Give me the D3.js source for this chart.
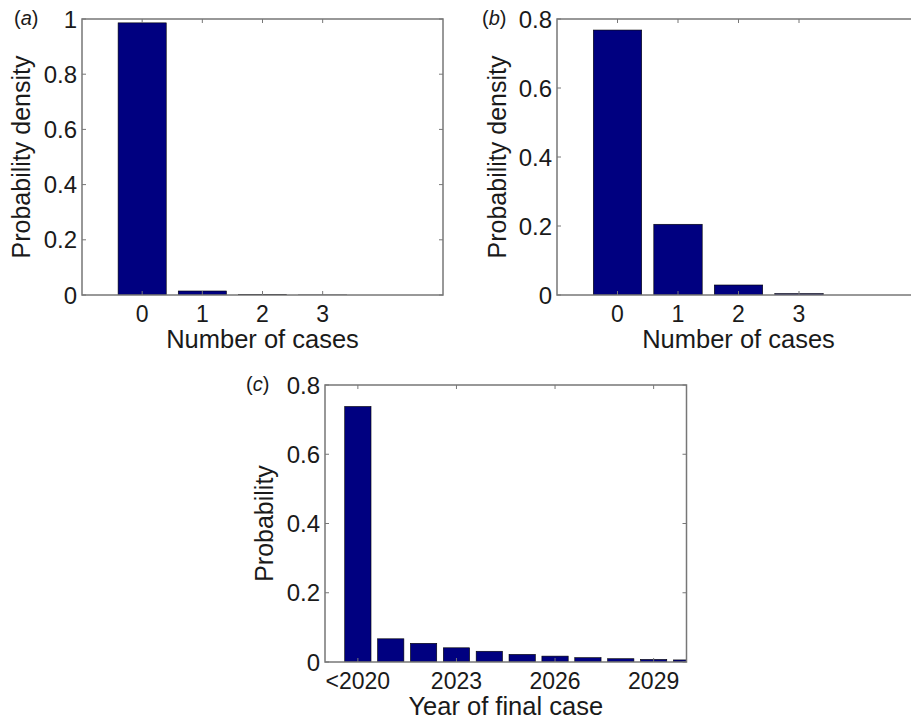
<!DOCTYPE html>
<html>
<head>
<meta charset="utf-8">
<script src="https://cdn.jsdelivr.net/npm/d3@7"></script>
<style>
  body { margin: 0; background: #fff; }
  text { font-family: "Liberation Sans", Arial, sans-serif; fill: #1a1a1a; }
</style>
</head>
<body>
<svg id="fig" width="911" height="720"></svg>
<script>
// number of cases, panels (a) and (b)
const cases = [0, 1, 2, 3]
const densityA = [0.986, 0.0145, 0.0015, 0.0002]
const densityB = [0.768, 0.205, 0.029, 0.004]

// year of final case, panel (c)
const years = [2020, 2021, 2022, 2023, 2024, 2025, 2026, 2027, 2028, 2029, 2030]
const probC = [0.738, 0.067, 0.054, 0.041, 0.031, 0.022, 0.017, 0.0125, 0.0095, 0.0075, 0.006]
const yearTicks = [2020, 2023, 2026, 2029]
const yearTickLabels = ['<2020', '2023', '2026', '2029']

const ticksA = [0, 0.2, 0.4, 0.6, 0.8, 1]
const ticks08 = [0, 0.2, 0.4, 0.6, 0.8]

const svg = d3.select('#fig')
const barColor = '#000080'
const axisColor = '#777'

function panel(opt) {
    let g = svg.append('g')
    let x = d3.scaleLinear().domain(opt.xDomain).range([opt.left, opt.right])
    let y = d3.scaleLinear().domain(opt.yDomain).range([opt.bottom, opt.top])

    let clipId = 'clip-' + opt.id
    g.append('clipPath').attr('id', clipId)
        .append('rect')
        .attr('x', opt.left).attr('y', opt.top)
        .attr('width', opt.right - opt.left)
        .attr('height', opt.bottom - opt.top)

    // bars, width 0.8 like matlab
    g.append('g').attr('clip-path', `url(#${clipId})`)
        .selectAll('rect')
        .data(opt.xs.map((v, i) => ({ v: v, p: opt.ys[i] })))
        .join('rect')
        .attr('x', d => x(d.v - 0.4))
        .attr('width', d => x(d.v + 0.4) - x(d.v - 0.4))
        .attr('y', d => y(d.p))
        .attr('height', d => y(0) - y(d.p))
        .attr('fill', barColor)
        .attr('stroke', '#000')
        .attr('stroke-width', 0.6)

    // ticks on all four sides, pointing inward
    let tl = 4
    let axes = g.append('g')
        .attr('stroke', axisColor)
        .attr('stroke-width', 1)
    opt.xTicks.forEach(t => {
        axes.append('line').attr('x1', x(t)).attr('x2', x(t)).attr('y1', opt.bottom).attr('y2', opt.bottom - tl)
        axes.append('line').attr('x1', x(t)).attr('x2', x(t)).attr('y1', opt.top).attr('y2', opt.top + tl)
    })
    opt.yTicks.forEach(t => {
        axes.append('line').attr('x1', opt.left).attr('x2', opt.left + tl).attr('y1', y(t)).attr('y2', y(t))
        axes.append('line').attr('x1', opt.right).attr('x2', opt.right - tl).attr('y1', y(t)).attr('y2', y(t))
    })

    g.append('rect')
        .attr('x', opt.left).attr('y', opt.top)
        .attr('width', opt.right - opt.left)
        .attr('height', opt.bottom - opt.top)
        .attr('fill', 'none')
        .attr('stroke', axisColor)
        .attr('stroke-width', 1.5)

    // tick labels
    g.append('g').selectAll('text')
        .data(opt.xTicks)
        .join('text')
        .attr('x', d => x(d))
        .attr('y', opt.bottom + 27)
        .attr('text-anchor', 'middle')
        .style('font-size', '23px')
        .text((d, i) => opt.xTickLabels[i])

    g.append('g').selectAll('text')
        .data(opt.yTicks)
        .join('text')
        .attr('x', opt.left - 5)
        .attr('y', d => y(d))
        .attr('dy', '0.36em')
        .attr('text-anchor', 'end')
        .style('font-size', '24px')
        .text(d => d3.format('~g')(d))

    // axis labels
    g.append('text')
        .attr('x', (opt.left + opt.right) / 2)
        .attr('y', opt.bottom + 53)
        .attr('text-anchor', 'middle')
        .style('font-size', '25.5px')
        .text(opt.xLabel)

    g.append('text')
        .attr('transform', `translate(${opt.yLabelX},${(opt.top + opt.bottom) / 2}) rotate(-90)`)
        .attr('text-anchor', 'middle')
        .style('font-size', '25px')
        .text(opt.yLabel)

    // panel letter
    let lab = g.append('text')
        .attr('x', opt.labelX)
        .attr('y', opt.top + 6)
        .style('font-size', '20px')
    lab.append('tspan').text('(')
    lab.append('tspan').style('font-style', 'italic').text(opt.letter)
    lab.append('tspan').text(')')
}

panel({
    id: 'a', letter: 'a', labelX: 14,
    left: 82, right: 443, top: 19, bottom: 295,
    xDomain: [-1, 5], yDomain: [0, 1],
    xs: cases, ys: densityA,
    xTicks: cases, xTickLabels: cases.map(String),
    yTicks: ticksA,
    xLabel: 'Number of cases', yLabel: 'Probability density', yLabelX: 30
})

panel({
    id: 'b', letter: 'b', labelX: 482,
    left: 557, right: 920, top: 19, bottom: 295,
    xDomain: [-1, 5], yDomain: [0, 0.8],
    xs: cases, ys: densityB,
    xTicks: cases, xTickLabels: cases.map(String),
    yTicks: ticks08,
    xLabel: 'Number of cases', yLabel: 'Probability density', yLabelX: 506
})

panel({
    id: 'c', letter: 'c', labelX: 246,
    left: 325, right: 686.5, top: 385, bottom: 662,
    xDomain: [2019, 2030], yDomain: [0, 0.8],
    xs: years, ys: probC,
    xTicks: yearTicks, xTickLabels: yearTickLabels,
    yTicks: ticks08,
    xLabel: 'Year of final case', yLabel: 'Probability', yLabelX: 273
})
</script>
</body>
</html>
